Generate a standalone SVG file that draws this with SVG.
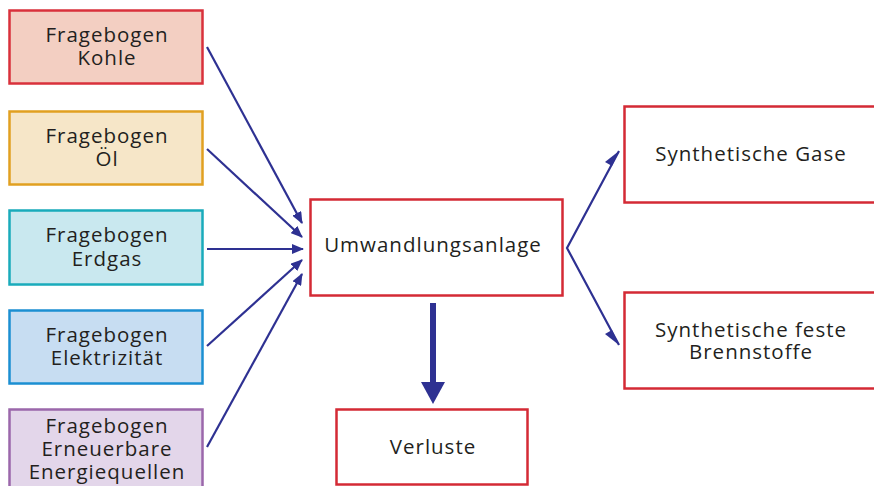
<svg xmlns="http://www.w3.org/2000/svg" width="874" height="486" viewBox="0 0 874 486">
  <style>
    text { font-family: "Open Sans", "Liberation Sans", sans-serif; font-size: 20.5px; letter-spacing: 1px; fill: #231f20; text-anchor: middle; }
    .box { stroke-width: 2.5; }
    .out { fill: #ffffff; stroke: #d42a35; stroke-width: 2.5; }
    .conn { stroke: #2e3192; stroke-width: 2.2; fill: none; }
  </style>
  <defs>
    <marker id="arrow" viewBox="0 0 12 10" refX="11" refY="5" markerWidth="12" markerHeight="10" markerUnits="userSpaceOnUse" orient="auto">
      <path d="M0,0 L12,5 L0,10 Z" fill="#2e3192"/>
    </marker>
  </defs>

  <!-- source questionnaires -->
  <g id="kohle">
    <rect class="box" x="9.5" y="10.5" width="193" height="73" fill="#f3cfc2" stroke="#d9313b"/>
    <text x="107" y="42">Fragebogen</text>
    <text x="107" y="65">Kohle</text>
  </g>
  <g id="oel">
    <rect class="box" x="9.5" y="111.5" width="193" height="73" fill="#f6e6c8" stroke="#e1a020"/>
    <text x="107" y="143">Fragebogen</text>
    <text x="107" y="166">Öl</text>
  </g>
  <g id="erdgas">
    <rect class="box" x="9.5" y="210.5" width="193" height="74" fill="#c9e8ef" stroke="#19abbb"/>
    <text x="107" y="242">Fragebogen</text>
    <text x="107" y="266">Erdgas</text>
  </g>
  <g id="elektrizitaet">
    <rect class="box" x="9.5" y="310.5" width="193" height="73" fill="#c7ddf2" stroke="#1b8fd2"/>
    <text x="107" y="342">Fragebogen</text>
    <text x="107" y="365">Elektrizität</text>
  </g>
  <g id="erneuerbare">
    <rect class="box" x="9.5" y="409.5" width="193" height="90" fill="#e3d6ea" stroke="#9b67ab"/>
    <text x="107" y="433">Fragebogen</text>
    <text x="107" y="456">Erneuerbare</text>
    <text x="107" y="479">Energiequellen</text>
  </g>

  <!-- conversion plant -->
  <g id="umwandlung">
    <rect class="out" x="310.5" y="199.5" width="252" height="96"/>
    <text x="433" y="252">Umwandlungsanlage</text>
  </g>

  <!-- outputs -->
  <g id="verluste">
    <rect class="out" x="336.5" y="409.5" width="191" height="75"/>
    <text x="433" y="454">Verluste</text>
  </g>
  <g id="gase">
    <rect class="out" x="624.5" y="106.5" width="260" height="96"/>
    <text x="751" y="161">Synthetische Gase</text>
  </g>
  <g id="brennstoffe">
    <rect class="out" x="624.5" y="292.5" width="260" height="96"/>
    <text x="751" y="337">Synthetische feste</text>
    <text x="751" y="359">Brennstoffe</text>
  </g>

  <!-- connectors -->
  <g id="connectors">
    <line class="conn" x1="207" y1="47" x2="302" y2="223" marker-end="url(#arrow)"/>
    <line class="conn" x1="207" y1="149" x2="302" y2="237" marker-end="url(#arrow)"/>
    <line class="conn" x1="207" y1="249" x2="303" y2="249" marker-end="url(#arrow)"/>
    <line class="conn" x1="207" y1="346" x2="302" y2="260" marker-end="url(#arrow)"/>
    <line class="conn" x1="207" y1="447" x2="302" y2="274" marker-end="url(#arrow)"/>
    <polyline class="conn" points="619,151 567,248 619,345"/>
    <path d="M619,151 L605,162 L612,166 Z" fill="#2e3192"/>
    <path d="M619,345 L605,334 L612,330 Z" fill="#2e3192"/>
    <line x1="433" y1="303" x2="433" y2="384" stroke="#2e3192" stroke-width="6"/>
    <path d="M421,382 L445,382 L433,404 Z" fill="#2e3192"/>
  </g>
</svg>
